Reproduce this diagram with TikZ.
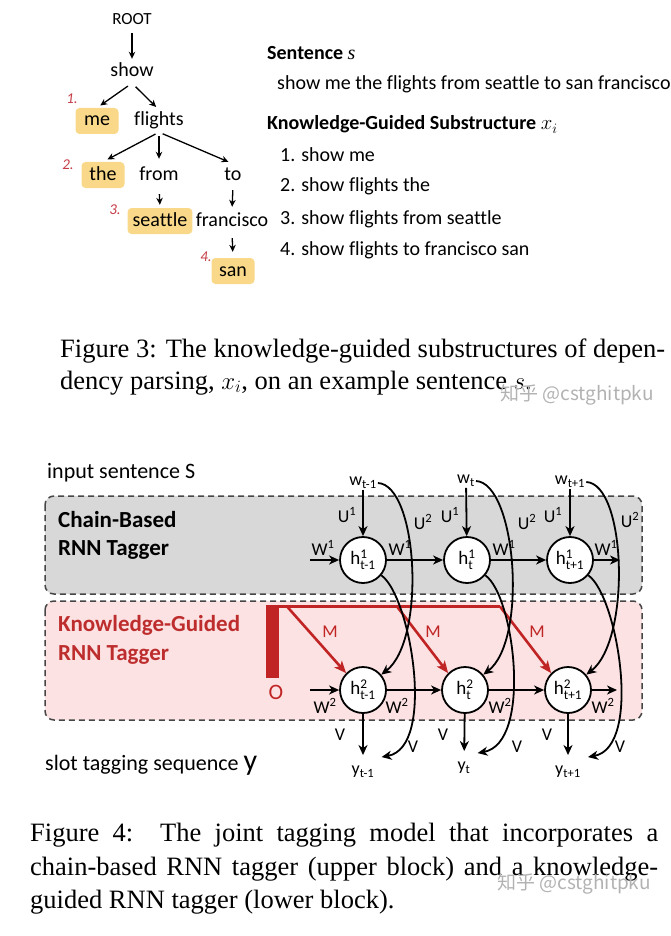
\documentclass[tikz,border=0pt]{standalone}
\usepackage{amsmath}
\usepackage{fontspec}
\setmainfont[Ligatures=NoCommon]{Carlito}
\newfontfamily\capfont{Liberation Serif}
\newfontfamily\cjkfont{Noto Sans CJK SC}
\usetikzlibrary{arrows.meta}
\definecolor{hlbox}{RGB}{249,216,138}
\definecolor{numred}{RGB}{196,60,70}
\definecolor{chaingray}{RGB}{216,216,216}
\definecolor{kgpink}{RGB}{252,226,226}
\definecolor{kgred}{RGB}{192,36,36}
\definecolor{kgtext}{RGB}{190,45,45}
\definecolor{dashgray}{RGB}{70,70,70}
\newcommand\fsz[1]{\fontsize{#1}{#1}\selectfont}
\tikzset{
  word/.style={inner sep=2pt, text height=14pt, text depth=4pt, font=\fsz{20}},
  hlword/.style={word, fill=hlbox, rounded corners=4pt, inner xsep=5pt, minimum width=43pt, minimum height=26pt},
  tarr/.style={-{Stealth[length=7pt,width=6.5pt]}, line width=1.3pt},
  num/.style={font=\fsz{15}\itshape, text=numred},
  txt/.style={anchor=base west, inner sep=0pt, font=\fsz{20}},
  captxt/.style={anchor=base west, inner sep=0pt, font=\capfont\fsz{26.5}},
  wmark/.style={anchor=base west, inner sep=0pt, font=\cjkfont\fsz{19}, text=black!30},
  dbox/.style={draw=dashgray, line width=1.5pt, dash pattern=on 6pt off 4pt, rounded corners=9pt},
  hnode/.style={circle, draw, fill=white, line width=1.8pt, minimum size=46pt, inner sep=0pt, font=\fsz{19}},
  wlab/.style={inner sep=1pt, font=\fsz{18}},
  lab/.style={inner sep=0pt, font=\fsz{18}},
  darr/.style={-{Stealth[length=10pt,width=9pt,inset=3pt]}, line width=1.8pt},
  rarr/.style={-{Stealth[length=12pt,width=10pt,inset=3pt]}, line width=2.6pt, draw=kgred},
}
\begin{document}
\begin{tikzpicture}[x=1pt,y=-1pt]
\useasboundingbox (0,0) rectangle (671,936);
% dependency tree
\node[word, font=\fsz{17}] (root) at (132,20) {ROOT};
\node[word] (show) at (132,72) {show};
\node[hlword] (me) at (97,121) {me};
\node[word] (flights) at (159,121) {flights};
\node[hlword] (the) at (103,175) {the};
\node[word] (from) at (159,175) {from};
\node[word] (to) at (233,175) {to};
\node[hlword] (seattle) at (160,221) {seattle};
\node[word] (francisco) at (232,221) {francisco};
\node[hlword] (san) at (233,271) {san};
\node[num] (n1) at (72,99) {1.};
\node[num] (n2) at (68,165) {2.};
\node[num] (n3) at (115,210) {3.};
\node[num] (n4) at (206,257) {4.};
\draw[tarr, shorten <=2pt, shorten >=2pt] (root) -- (show);
\draw[tarr, shorten <=5pt, shorten >=4pt] (show.south) -- (me.north);
\draw[tarr, shorten <=5pt, shorten >=4pt] (show.south) -- (flights.north);
\draw[tarr, shorten <=4pt, shorten >=5pt] (flights.south) -- (the.north);
\draw[tarr, shorten <=4pt, shorten >=5pt] (flights.south) -- (from.north);
\draw[tarr, shorten <=4pt, shorten >=5pt] (flights.south) -- (to.north);
\draw[tarr, shorten <=8pt, shorten >=3pt] (from.south) -- (seattle.north);
\draw[tarr, shorten <=4pt, shorten >=3pt] (to.south) -- (francisco.north);
\draw[tarr, shorten <=6pt, shorten >=6pt] (francisco.south) -- (san.north);
% sentence and substructures
\node[txt] (sent) at (267,60) {\bfseries Sentence {\capfont\mdseries\itshape s}};
\node[txt] (sentx) at (277,90) {show me the flights from seattle to san francisco};
\node[txt] (kgs) at (267,130) {\bfseries Knowledge-Guided Substructure $x_i$};
\node[txt] (sub1) at (280,161) {1. show me};
\node[txt] (sub2) at (280,192) {2. show flights the};
\node[txt] (sub3) at (280,224) {3. show flights from seattle};
\node[txt] (sub4) at (280,255) {4. show flights to francisco san};
% caption 3
\node[captxt] (cap3a) at (60,357) {\hbox to 605pt{Figure 3: The knowledge-guided substructures of depen-}};
\node[captxt] (cap3b) at (60,389) {dency parsing, $x_i$, on an example sentence $s$.};
\node[wmark] (wm1) at (500,400) {知乎 @cstghitpku};
% joint tagging model
\node[anchor=base west, inner sep=0pt, font=\fsz{22}] (insent) at (47,478) {input sentence S};
\draw[dbox, fill=chaingray] (45,496) rectangle (642,594);
\draw[dbox, fill=kgpink] (45,601) rectangle (642,720);
\node[anchor=base west, inner sep=0pt, font=\fsz{23}\bfseries] (cb1) at (58,527) {Chain-Based};
\node[anchor=base west, inner sep=0pt, font=\fsz{23}\bfseries] (cb2) at (58,555) {RNN Tagger};
\node[anchor=base west, inner sep=0pt, font=\fsz{23}\bfseries, text=kgtext] (kg1) at (58,631) {Knowledge-Guided};
\node[anchor=base west, inner sep=0pt, font=\fsz{23}\bfseries, text=kgtext] (kg2) at (58,660) {RNN Tagger};
\node[anchor=base west, inner sep=0pt, font=\fsz{22}] (slot) at (45,770) {slot tagging sequence {\fsz{30}y}};
% knowledge input
\node[fill=kgred, minimum width=13pt, minimum height=73pt, inner sep=0pt, anchor=north] (obar) at (272.5,605) {};
\node[font=\fsz{22}, text=kgred, inner sep=0pt] (olab) at (276,692) {O};
\coordinate (m0) at (272.5,606.5);
\coordinate (m1) at (287,606.5);
\coordinate (m2) at (397,606.5);
\coordinate (m3) at (500,606.5);
\draw[kgred, line width=3pt] (m0) -- (m3);
% hidden nodes
\node[hnode] (h11) at (363,560) {h$^{\text{1}}_{\text{t-1}}$};
\node[hnode] (h12) at (467,560) {h$^{\text{1}}_{\text{t}}$};
\node[hnode] (h13) at (570,560) {h$^{\text{1}}_{\text{t+1}}$};
\node[hnode] (h21) at (363,690) {h$^{\text{2}}_{\text{t-1}}$};
\node[hnode] (h22) at (465,690) {h$^{\text{2}}_{\text{t}}$};
\node[hnode] (h23) at (568,690) {h$^{\text{2}}_{\text{t+1}}$};
\draw[rarr] (m1) -- (h21.135);
\draw[rarr] (m2) -- (h22.135);
\draw[rarr] (m3) -- (h23.135);
\node[lab, text=kgred] (ma) at (330,632) {M};
\node[lab, text=kgred] (mb) at (433,632) {M};
\node[lab, text=kgred] (mc) at (537,632) {M};
% words and tags
\node[wlab] (w1) at (363,483) {w$_{\text{t-1}}$};
\node[wlab] (w2) at (466,481) {w$_{\text{t}}$};
\node[wlab] (w3) at (570,482) {w$_{\text{t+1}}$};
\node[wlab] (y1) at (363,772) {y$_{\text{t-1}}$};
\node[wlab] (y2) at (464,768) {y$_{\text{t}}$};
\node[wlab] (y3) at (568,772) {y$_{\text{t+1}}$};
\coordinate (in1) at (310,560);
\coordinate (out1) at (620,560);
\coordinate (in2) at (310,690);
\coordinate (out2) at (617,690);
% chain arrows
\draw[darr] (w1) -- (h11);
\draw[darr] (w2) -- (h12);
\draw[darr] (w3) -- (h13);
\draw[darr] (in1) -- (h11);
\draw[darr] (h11) -- (h12);
\draw[darr] (h12) -- (h13);
\draw[darr] (h13) -- (out1);
\draw[darr] (in2) -- (h21);
\draw[darr] (h21) -- (h22);
\draw[darr] (h22) -- (h23);
\draw[darr] (h23) -- (out2);
\draw[darr, shorten >=10pt] (h21) -- (y1);
\draw[darr, shorten >=10pt] (h22) -- (y2);
\draw[darr, shorten >=10pt] (h23) -- (y3);
% U2 and V curves
\draw[darr] (w1.east) .. controls +(40,2) and +(45,-35) .. (h21.40);
\draw[darr] (w2.east) .. controls +(40,2) and +(45,-35) .. (h22.40);
\draw[darr] (w3.east) .. controls +(40,2) and +(45,-35) .. (h23.40);
\draw[darr] (h11.-40) .. controls +(29,20) and +(55,-10) .. ([shift={(6pt,8pt)}]y1.north east);
\draw[darr] (h12.-40) .. controls +(29,20) and +(55,-10) .. ([shift={(6pt,8pt)}]y2.north east);
\draw[darr] (h13.-40) .. controls +(29,20) and +(55,-10) .. ([shift={(6pt,8pt)}]y3.north east);
% weight labels
\node[lab] (ua1) at (347,515) {U$^{\text{1}}$};
\node[lab] (ua2) at (450,515) {U$^{\text{1}}$};
\node[lab] (ua3) at (553,515) {U$^{\text{1}}$};
\node[lab] (ub1) at (423,522) {U$^{\text{2}}$};
\node[lab] (ub2) at (527,522) {U$^{\text{2}}$};
\node[lab] (ub3) at (630,520) {U$^{\text{2}}$};
\node[lab] (wa0) at (323,548) {W$^{\text{1}}$};
\node[lab] (wa1) at (400,548) {W$^{\text{1}}$};
\node[lab] (wa2) at (504,548) {W$^{\text{1}}$};
\node[lab] (wa3) at (606,548) {W$^{\text{1}}$};
\node[lab] (wb0) at (325,706) {W$^{\text{2}}$};
\node[lab] (wb1) at (397,706) {W$^{\text{2}}$};
\node[lab] (wb2) at (500,706) {W$^{\text{2}}$};
\node[lab] (wb3) at (603,706) {W$^{\text{2}}$};
\node[lab] (va1) at (340,735) {V};
\node[lab] (va2) at (443,735) {V};
\node[lab] (va3) at (547,735) {V};
\node[lab] (vb1) at (413,747) {V};
\node[lab] (vb2) at (517,747) {V};
\node[lab] (vb3) at (620,747) {V};
% caption 4
\node[captxt] (cap4a) at (30,841) {\hbox to 628pt{Figure 4:\ \ The joint tagging model that incorporates a}};
\node[captxt] (cap4b) at (30,875) {\hbox to 628pt{chain-based RNN tagger (upper block) and a knowledge-}};
\node[captxt] (cap4c) at (30,908) {guided RNN tagger (lower block).};
\node[wmark] (wm2) at (497,889) {知乎 @cstghitpku};
\end{tikzpicture}
\end{document}
